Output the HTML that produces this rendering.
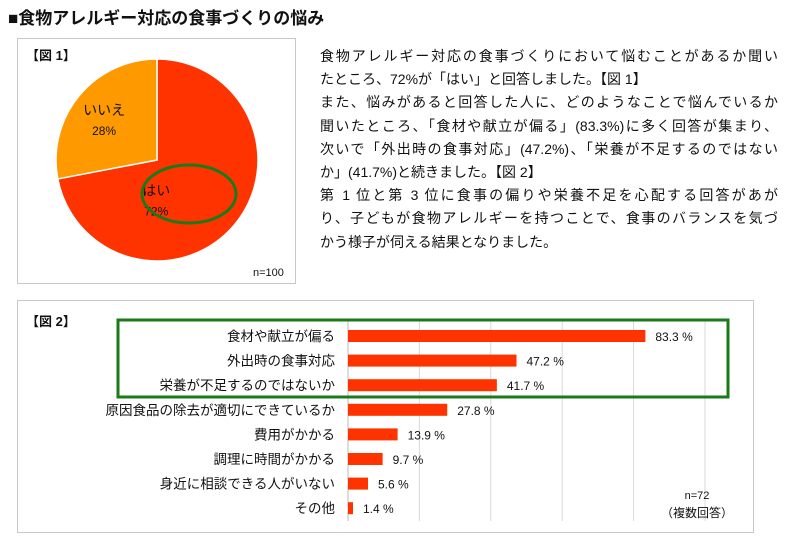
<!DOCTYPE html>
<html><head><meta charset="utf-8"><style>
body{margin:0;background:#fff;font-family:"Liberation Sans","Noto Sans CJK JP",sans-serif;}
svg text{font-family:"Liberation Sans","Noto Sans CJK JP",sans-serif;}
#para{position:absolute;left:320px;top:45px;width:458px;font-size:14px;line-height:23.2px;color:#111;}
#para div{text-align:justify;text-align-last:justify;white-space:nowrap;}
#para div.l{text-align-last:left;}
</style></head><body>
<svg id="chart" width="791" height="544" style="position:absolute;left:0;top:0">
<text x="8" y="24" font-size="17" font-weight="bold" fill="#111">■食物アレルギー対応の食事づくりの悩み</text>
<rect x="17.5" y="38.5" width="278" height="245" fill="none" stroke="#c8c8c8"/>
<text x="26" y="60" font-size="13" font-weight="bold" fill="#111">【図 1】</text>
<g id="pie"></g>
<ellipse cx="189" cy="194" rx="47" ry="29" fill="none" stroke="#1a7a1a" stroke-width="3"/>
<text x="253" y="276" font-size="11" fill="#111">n=100</text>
<rect x="17.5" y="300.5" width="736" height="232" fill="none" stroke="#c8c8c8"/>
<text x="26" y="326" font-size="13" font-weight="bold" fill="#111">【図 2】</text>
<g id="bars"></g>
<rect x="118" y="320" width="610" height="77" fill="none" stroke="#1a7a1a" stroke-width="3"/>
<text x="697" y="499" font-size="11" fill="#111" text-anchor="middle">n=72</text>
<text x="697" y="517" font-size="12" fill="#111" text-anchor="middle">（複数回答）</text>
</svg>
<div id="para">
<div>食物アレルギー対応の食事づくりにおいて悩むことがあるか聞い</div>
<div class="l">たところ、72%が「はい」と回答しました。【図 1】</div>
<div>また、悩みがあると回答した人に、どのようなことで悩んでいるか</div>
<div>聞いたところ、「食材や献立が偏る」(83.3%)に多く回答が集まり、</div>
<div>次いで「外出時の食事対応」(47.2%)、「栄養が不足するのではない</div>
<div class="l">か」(41.7%)と続きました。【図 2】</div>
<div>第 1 位と第 3 位に食事の偏りや栄養不足を心配する回答があが</div>
<div>り、子どもが食物アレルギーを持つことで、食事のバランスを気づ</div>
<div class="l">かう様子が伺える結果となりました。</div>
</div>
<script>
const pieLabels=["はい","いいえ"];
const pieValues=[72,28];
const barCategories=["食材や献立が偏る","外出時の食事対応","栄養が不足するのではないか","原因食品の除去が適切にできているか","費用がかかる","調理に時間がかかる","身近に相談できる人がいない","その他"];
const barValues=[83.3,47.2,41.7,27.8,13.9,9.7,5.6,1.4];
const gridTicks=[0,20,40,60,80,100];
const NS="http://www.w3.org/2000/svg";
function mk(t,a,p){const e=document.createElementNS(NS,t);for(const k in a)e.setAttribute(k,a[k]);p.appendChild(e);return e;}
// pie
const pie=document.getElementById('pie');
const cx=157,cy=160,r=101,colors=["#ff3300","#ff9900"];
const total=pieValues.reduce((a,b)=>a+b,0);
let ang=-Math.PI/2;
pieValues.forEach((v,i)=>{
 const a2=ang+v/total*2*Math.PI;
 const x1=cx+r*Math.cos(ang),y1=cy+r*Math.sin(ang),x2=cx+r*Math.cos(a2),y2=cy+r*Math.sin(a2);
 const p=mk('path',{d:`M${cx},${cy}L${x1},${y1}A${r},${r} 0 ${a2-ang>Math.PI?1:0} 1 ${x2},${y2}Z`,fill:colors[i],stroke:"#fff","stroke-width":1.5},pie);
 
 
 const mid=(ang+a2)/2;
 let lx,ly;
 if(i==0){lx=cx+r*0.36*Math.cos(mid+0.9);ly=cy+r*0.36*Math.sin(mid+0.9);}
 else{lx=cx+r*0.68*Math.cos(mid);ly=cy+r*0.68*Math.sin(mid);}
 const t1=mk('text',{x:lx,y:ly-1,"font-size":14,"text-anchor":"middle",fill:"#111"},pie);t1.textContent=pieLabels[i];
 
 
 const t2=mk('text',{x:lx,y:ly+19,"font-size":12,"text-anchor":"middle",fill:"#111"},pie);t2.textContent=v+"%";
 
 
 ang=a2;
});
// bars
const bars=document.getElementById('bars');
const x0=348,x1=705,top0=336,step=24.6,bh=12;
const xs=v=>x0+(v/100)*(x1-x0);
const yc=i=>top0+i*step;
gridTicks.forEach(t=>{
 const l=mk('line',{x1:xs(t),x2:xs(t),y1:321,y2:521,stroke:t==0?"#bbb":"#d9d9d9"},bars);
 
 
});
barCategories.forEach((c,i)=>{
 const y=yc(i);
 const lab=mk('text',{x:335,y:y+5,"font-size":13.5,"text-anchor":"end",fill:"#111"},bars);lab.textContent=c;
 
 
 const b=mk('rect',{x:x0,y:y-bh/2,width:xs(barValues[i])-x0,height:bh,fill:"#ff3300"},bars);
 
 
 const v=mk('text',{x:xs(barValues[i])+10,y:y+5,"font-size":12,fill:"#111"},bars);v.textContent=barValues[i].toFixed(1)+" %";
 
 
});
</script>
</body></html>
